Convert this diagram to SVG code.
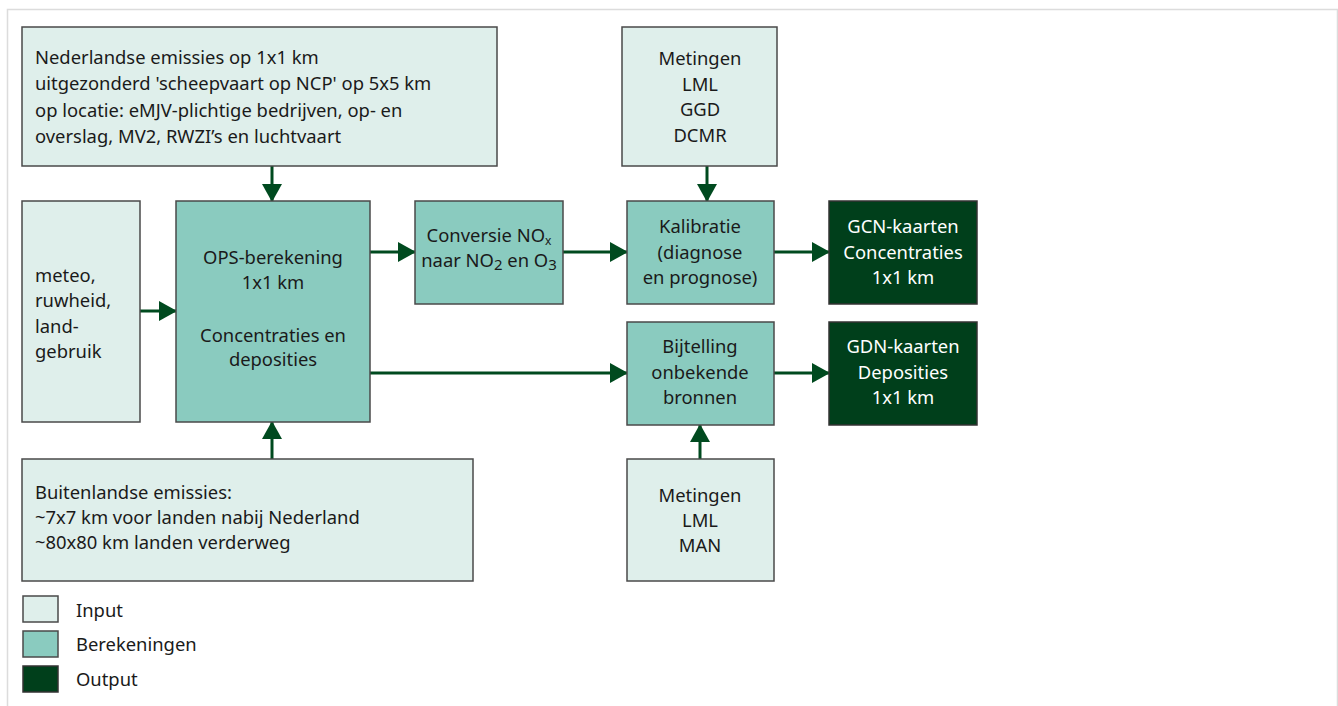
<svg xmlns="http://www.w3.org/2000/svg" width="1338" height="706" viewBox="0 0 1338 706">
<defs>
<style>
text{font-family:"Noto Sans","Open Sans",sans-serif;font-size:18.4px;fill:#1a1a1a}
.in{fill:#dfefeb;stroke:#4a4a4a;stroke-width:1.5}
.calc{fill:#8acbbf;stroke:#4a4a4a;stroke-width:1.5}
.out{fill:#003f1b;stroke:#333;stroke-width:1.5}
.w{fill:#ffffff}
.c{text-anchor:middle}
.conn{stroke:#004a1f;stroke-width:3;fill:none;marker-end:url(#ah)}
.sub{font-size:12px}
.sub2{font-size:15px}
</style>
<marker id="ah" markerUnits="userSpaceOnUse" markerWidth="18" markerHeight="20" refX="17" refY="10" orient="auto">
<path d="M0,0 L18,10 L0,20 Z" fill="#004a1f"/>
</marker>
</defs>
<rect width="1338" height="706" fill="#ffffff"/>
<path d="M7.5,706 V9.5 H1337.5 V706" fill="none" stroke="#dcdcdc" stroke-width="1.5"/>

<g id="connectors">
<line class="conn" x1="272" y1="166" x2="272" y2="201"/>
<line class="conn" x1="140" y1="311" x2="176" y2="311"/>
<line class="conn" x1="272" y1="459" x2="272" y2="422"/>
<line class="conn" x1="370" y1="252" x2="415" y2="252"/>
<line class="conn" x1="563" y1="252" x2="627" y2="252"/>
<line class="conn" x1="707" y1="166" x2="707" y2="201"/>
<line class="conn" x1="774" y1="252" x2="829" y2="252"/>
<line class="conn" x1="370" y1="373" x2="627" y2="373"/>
<line class="conn" x1="774" y1="373" x2="829" y2="373"/>
<line class="conn" x1="700" y1="459" x2="700" y2="425"/>
</g>

<g id="nl-emissies">
<rect class="in" x="22" y="27" width="475" height="139"/>
<text x="35" y="64">Nederlandse emissies op 1x1 km</text>
<text x="35" y="90">uitgezonderd 'scheepvaart op NCP' op 5x5 km</text>
<text x="35" y="117">op locatie: eMJV-plichtige bedrijven, op- en</text>
<text x="35" y="143">overslag, MV2, RWZI’s en luchtvaart</text>
</g>

<g id="meteo">
<rect class="in" x="22" y="201" width="118" height="221"/>
<text x="35" y="282">meteo,</text>
<text x="35" y="307">ruwheid,</text>
<text x="35" y="333">land-</text>
<text x="35" y="358">gebruik</text>
</g>

<g id="ops">
<rect class="calc" x="176" y="201" width="194" height="221"/>
<text class="c" x="273" y="264">OPS-berekening</text>
<text class="c" x="273" y="289">1x1 km</text>
<text class="c" x="273" y="342">Concentraties en</text>
<text class="c" x="273" y="366">deposities</text>
</g>

<g id="buitenland">
<rect class="in" x="22" y="459" width="451" height="122"/>
<text x="35" y="499">Buitenlandse emissies:</text>
<text x="35" y="524">~7x7 km voor landen nabij Nederland</text>
<text x="35" y="549">~80x80 km landen verderweg</text>
</g>

<g id="conversie">
<rect class="calc" x="415" y="201" width="148" height="103"/>
<text class="c" x="489" y="242">Conversie NO<tspan class="sub" dy="3">x</tspan></text>
<text class="c" x="489" y="267">naar NO<tspan class="sub2" dy="3">2</tspan><tspan dy="-3"> en O</tspan><tspan class="sub2" dy="3">3</tspan></text>
</g>

<g id="metingen-top">
<rect class="in" x="622" y="27" width="155" height="139"/>
<text class="c" x="700" y="65">Metingen</text>
<text class="c" x="700" y="91">LML</text>
<text class="c" x="700" y="116">GGD</text>
<text class="c" x="700" y="142">DCMR</text>
</g>

<g id="kalibratie">
<rect class="calc" x="627" y="201" width="147" height="103"/>
<text class="c" x="700" y="233">Kalibratie</text>
<text class="c" x="700" y="259">(diagnose</text>
<text class="c" x="700" y="284">en prognose)</text>
</g>

<g id="gcn">
<rect class="out" x="829" y="201" width="148" height="103"/>
<text class="c w" x="903" y="233">GCN-kaarten</text>
<text class="c w" x="903" y="259">Concentraties</text>
<text class="c w" x="903" y="284">1x1 km</text>
</g>

<g id="bijtelling">
<rect class="calc" x="627" y="322" width="147" height="103"/>
<text class="c" x="700" y="353">Bijtelling</text>
<text class="c" x="700" y="379">onbekende</text>
<text class="c" x="700" y="404">bronnen</text>
</g>

<g id="gdn">
<rect class="out" x="829" y="322" width="148" height="103"/>
<text class="c w" x="903" y="353">GDN-kaarten</text>
<text class="c w" x="903" y="379">Deposities</text>
<text class="c w" x="903" y="404">1x1 km</text>
</g>

<g id="metingen-bottom">
<rect class="in" x="627" y="459" width="147" height="122"/>
<text class="c" x="700" y="502">Metingen</text>
<text class="c" x="700" y="527">LML</text>
<text class="c" x="700" y="552">MAN</text>
</g>

<g id="legend">
<rect class="in" x="23" y="596" width="35" height="26"/>
<text x="76" y="617">Input</text>
<rect class="calc" x="23" y="631" width="35" height="26"/>
<text x="76" y="651">Berekeningen</text>
<rect class="out" x="23" y="666" width="35" height="26"/>
<text x="76" y="686">Output</text>
</g>
</svg>
